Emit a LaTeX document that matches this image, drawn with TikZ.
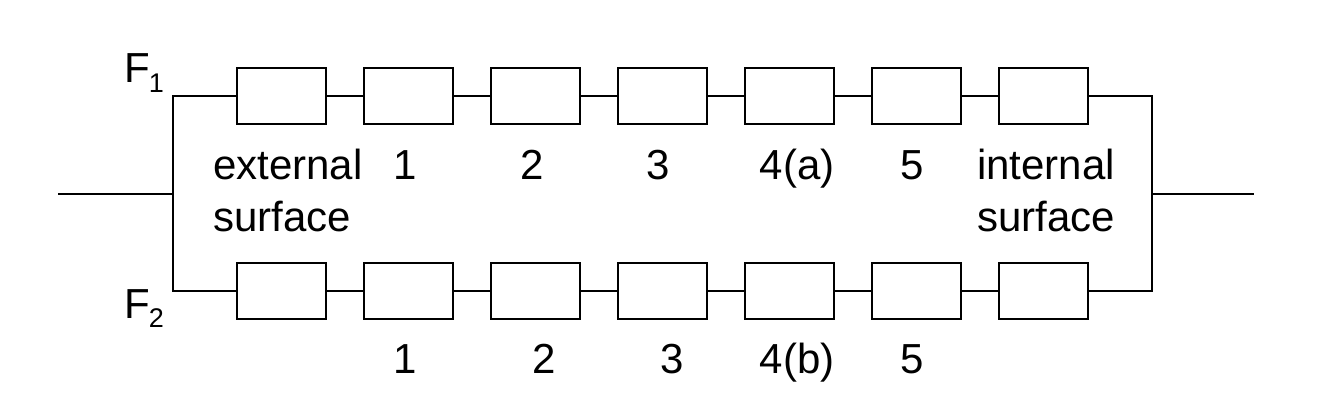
\documentclass[tikz,border=0pt]{standalone}
\usepackage{fontspec}
\setmainfont{Liberation Sans}
\begin{document}
\begin{tikzpicture}[x=1pt,y=-1pt,
  box/.style={draw, line width=1.1pt, minimum width=89pt, minimum height=56pt, inner sep=0pt, fill=white},
  wire/.style={line width=1.1pt},
  lbl/.style={anchor=base, inner sep=0pt, font=\fontsize{42}{50}\selectfont},
  lblw/.style={anchor=base west, inner sep=0pt, font=\fontsize{42}{50}\selectfont}]
\path[use as bounding box] (0,0) rectangle (1318,418);
% boxes
\foreach \i in {0,...,6} {
  \node[box] (t\i) at ({281.5+127*\i},96) {};
  \node[box] (b\i) at ({281.5+127*\i},291) {};
}
% series wires
\foreach \i [evaluate=\i as \j using int(\i+1)] in {0,...,5} {
  \draw[wire] (t\i.east) -- (t\j.west);
  \draw[wire] (b\i.east) -- (b\j.west);
}
% parallel junctions
\coordinate (L) at (173,194);
\coordinate (Lin) at (58,194);
\coordinate (R) at (1152,194);
\coordinate (Rout) at (1254,194);
\draw[wire] (t0.west) -| (L) |- (b0.west);
\draw[wire] (t6.east) -| (R) |- (b6.east);
\draw[wire] (Lin) -- (L);
\draw[wire] (R) -- (Rout);
% F labels
\node[lblw] (F1) at (124,82) {F\kern-1pt\raisebox{-10pt}{\fontsize{27}{27}\selectfont 1}};
\node[lblw] (F2) at (124,318) {F\kern-1pt\raisebox{-9pt}{\fontsize{27}{27}\selectfont 2}};
% top labels
\node[lblw] (ext1) at (213,179) {external};
\node[lblw] (ext2) at (213,231) {surface};
\node[lbl] (tl1) at (405,179) {1};
\node[lbl] (tl2) at (532,179) {2};
\node[lbl] (tl3) at (658,179) {3};
\node[lbl] (tl4) at (797,179) {4(a)};
\node[lbl] (tl5) at (912,179) {5};
\node[lblw] (int1) at (977,179) {internal};
\node[lblw] (int2) at (977,231) {surface};
% bottom labels
\node[lbl] (bl1) at (405,373) {1};
\node[lbl] (bl2) at (544,373) {2};
\node[lbl] (bl3) at (672,373) {3};
\node[lbl] (bl4) at (797,373) {4(b)};
\node[lbl] (bl5) at (912,373) {5};
\end{tikzpicture}
\end{document}
